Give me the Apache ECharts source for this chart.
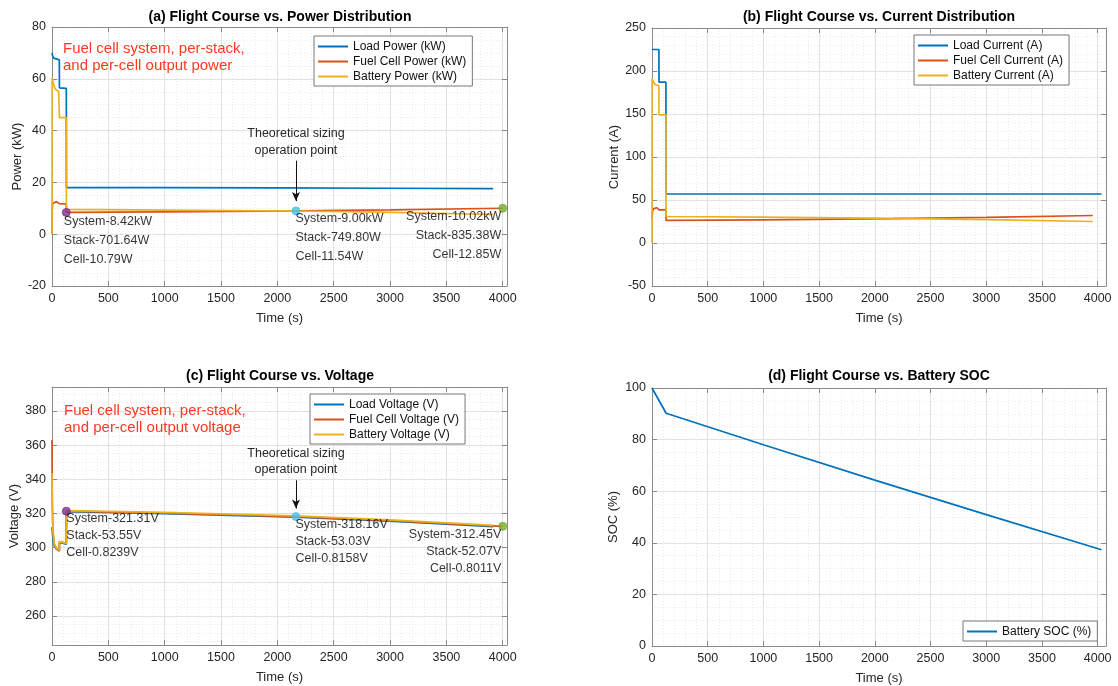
<!DOCTYPE html>
<html>
<head>
<meta charset="utf-8">
<script src="https://cdn.jsdelivr.net/npm/echarts@6/dist/echarts.min.js"></script>
<style>
  html, body { margin: 0; padding: 0; background: #ffffff; }
  #chart { width: 1118px; height: 686px; }
</style>
</head>
<body>
<div id="chart"></div>
<script>
// ---------- (a) power, kW ----------
const loadPowerTime = [0, 5, 15, 30, 65, 66, 127, 128, 1000, 2000, 3000, 3915];
const loadPowerKW   = [70, 69, 68, 67.5, 67.3, 56.5, 56.3, 18.0, 17.95, 17.85, 17.75, 17.6];
const fcPowerTime   = [0, 1, 5, 20, 40, 55, 65, 127, 128, 1000, 2165, 3000, 4000];
const fcPowerKW     = [0, 8.5, 11.8, 12.2, 12.6, 12.4, 11.8, 11.7, 8.42, 8.65, 9.00, 9.40, 10.02];
const batPowerTime  = [0, 1, 10, 30, 60, 65, 66, 127, 128, 1000, 2165, 3000, 3915];
const batPowerKW    = [0, 60.5, 58.5, 56, 55, 55, 45, 45, 9.6, 9.3, 8.95, 8.4, 7.6];

// ---------- (b) current, A ----------
const loadCurTime = [0, 62, 63, 125, 126, 4035];
const loadCurA    = [225, 225, 187, 187, 57, 57];
const fcCurTime   = [0, 5, 15, 30, 45, 55, 62, 125, 126, 1000, 2165, 3000, 3956];
const fcCurA      = [28, 37, 40, 41, 41, 39, 38.5, 38.5, 26.2, 27.0, 28.3, 29.8, 32.0];
const batCurTime  = [0, 1, 10, 30, 62, 63, 125, 126, 1000, 2165, 3000, 3956];
const batCurA     = [0, 191.5, 188, 184, 183, 149, 149, 30.8, 30.0, 28.7, 27.2, 25.0];

// ---------- (c) voltage, V ----------
const loadVoltTime = [0, 8, 20, 40, 65, 66, 127, 128, 1000, 2165, 3000, 3915];
const loadVoltV    = [312, 305, 301, 299, 298, 303, 302, 321.0, 319.9, 317.8, 315.5, 312.2];
const fcVoltTime   = [0, 1, 3, 8, 20, 40, 65, 66, 127, 128, 1000, 2165, 3000, 4000];
const fcVoltV      = [363, 345, 325, 310, 302, 299.5, 298.5, 303.5, 302.5, 321.31, 320.2, 318.16, 315.8, 312.45];
const batVoltTime  = [0, 3, 8, 20, 40, 65, 66, 127, 128, 1000, 2165, 3000, 3915];
const batVoltV     = [343.5, 325, 310, 302, 299.5, 298.5, 303.5, 302.5, 321.7, 320.6, 318.6, 316.2, 313.0];

// ---------- (d) battery state of charge, % ----------
const socTime = [0, 127, 1000, 2000, 3000, 4035];
const socPct  = [100, 90.2, 78.0, 64.3, 50.9, 37.3];

// ---------- highlighted operating points ----------
const opTime      = [127, 2165, 4000];
const opSystemKW  = [8.42, 9.00, 10.02];
const opStackW    = [701.64, 749.80, 835.38];
const opCellW     = [10.79, 11.54, 12.85];
const opSystemV   = [321.31, 318.16, 312.45];
const opStackV    = [53.55, 53.03, 52.07];
const opCellV     = [0.8239, 0.8158, 0.8011];
const opColors    = ['#7E2F8E', '#4DBEEE', '#77AC30'];

const C_BLUE = '#0072BD', C_ORANGE = '#D95319', C_YELLOW = '#EDB120';
const C_RED_TEXT = '#fc3a22';
const FONT = '"Liberation Sans", Arial, Helvetica, sans-serif';
const TICK_COLOR = '#8a8a8a';
const LABEL_COLOR = '#262626';

const zip = (xs, ys) => xs.map((x, i) => [x, ys[i]]);
const plainNumber = v => String(v);

// grid boxes in pixels
const grids = [
  { left: 52,  top: 27,  width: 455, height: 259 },
  { left: 652, top: 28,  width: 454, height: 258 },
  { left: 52,  top: 387, width: 455, height: 258 },
  { left: 652, top: 388, width: 454, height: 258 }
];

function xPair(gi, max) {
  const common = {
    type: 'value', gridIndex: gi, min: 0, max: max, interval: 500,
    axisLine: { show: true, onZero: false, lineStyle: { color: TICK_COLOR, width: 1 } },
    axisTick: { show: true, inside: true, length: 5, lineStyle: { color: TICK_COLOR } },
    minorTick: { show: false, splitNumber: 5 }
  };
  return [
    Object.assign({}, common, {
      position: 'bottom',
      name: 'Time (s)', nameLocation: 'middle', nameGap: 26,
      nameTextStyle: { fontSize: 13, color: LABEL_COLOR, fontFamily: FONT },
      axisLabel: { fontSize: 12.5, color: LABEL_COLOR, margin: 6, showMaxLabel: false,
                   fontFamily: FONT, formatter: plainNumber },
      splitLine: { show: true, lineStyle: { color: '#e2e2e2', width: 1 } },
      minorSplitLine: { show: true, lineStyle: { color: '#ebebeb', width: 1, type: [1, 2] } }
    }),
    Object.assign({}, common, {
      position: 'top',
      axisLabel: { show: false }, splitLine: { show: false }
    })
  ];
}

function yPair(gi, range, hideEnds, name, nameGap, minorSplit) {
  const common = Object.assign({
    type: 'value', gridIndex: gi,
    axisLine: { show: true, onZero: false, lineStyle: { color: TICK_COLOR, width: 1 } },
    axisTick: { show: true, inside: true, length: 5, lineStyle: { color: TICK_COLOR } },
    minorTick: { show: false, splitNumber: minorSplit }
  }, range);
  return [
    Object.assign({}, common, {
      position: 'left',
      name: name, nameLocation: 'middle', nameGap: nameGap,
      nameTextStyle: { fontSize: 13, color: LABEL_COLOR, fontFamily: FONT },
      axisLabel: { fontSize: 12.5, color: LABEL_COLOR, margin: 6, showMinLabel: !hideEnds,
                   showMaxLabel: !hideEnds, fontFamily: FONT, formatter: plainNumber },
      splitLine: { show: true, lineStyle: { color: '#e2e2e2', width: 1 } },
      minorSplitLine: { show: true, lineStyle: { color: '#ebebeb', width: 1, type: [1, 2] } }
    }),
    Object.assign({}, common, {
      position: 'right',
      axisLabel: { show: false }, splitLine: { show: false }
    })
  ];
}

const xAxes = [].concat(
  xPair(0, 4038), xPair(1, 4075), xPair(2, 4038), xPair(3, 4075)
);
const yAxes = [].concat(
  yPair(0, { min: -20, max: 80, interval: 20 }, false, 'Power (kW)', 28, 4),
  yPair(1, { min: -50, max: 250, interval: 50 }, false, 'Current (A)', 30, 5),
  yPair(2, { min: 243, max: 394, splitNumber: 7 }, true, 'Voltage (V)', 31, 4),
  yPair(3, { min: 0, max: 100, interval: 20 }, false, 'SOC (%)', 32, 4)
);

function lineSeries(name, gi, xs, ys, color, extra) {
  return Object.assign({
    name: name, type: 'line', xAxisIndex: 2 * gi, yAxisIndex: 2 * gi,
    data: zip(xs, ys), symbol: 'none', showSymbol: false,
    lineStyle: { color: color, width: 1.7 }, itemStyle: { color: color },
    clip: true, silent: true, z: 3
  }, extra || {});
}

// arrow + caption pointing at the theoretical sizing point
function sizingArrow(yFrom, yTo) {
  return {
    silent: true, animation: false,
    symbol: ['none', 'arrow'], symbolSize: [6, 9],
    lineStyle: { color: '#111', width: 1, type: 'solid' },
    label: {
      show: true, position: 'start', distance: 2,
      formatter: 'Theoretical sizing\noperation point',
      color: LABEL_COLOR, fontSize: 12.5, lineHeight: 16.6, fontFamily: FONT, align: 'center'
    },
    data: [[{ coord: [opTime[1], yFrom] }, { coord: [opTime[1], yTo] }]]
  };
}

// marker points with their three-line value captions
function opPoints(gi, values, captions, lineH, offsets) {
  return {
    type: 'scatter', xAxisIndex: 2 * gi, yAxisIndex: 2 * gi, symbolSize: 8, silent: true, z: 5,
    data: opTime.map((t, i) => ({
      value: [t, values[i]],
      itemStyle: { color: opColors[i], borderColor: opColors[i], borderWidth: 1 },
      label: {
        show: true, formatter: captions[i], position: offsets[i].pos, align: offsets[i].align,
        verticalAlign: 'top', color: '#000', fontSize: 12.5, lineHeight: lineH, fontFamily: FONT
      }
    }))
  };
}

const powerCaptions = opTime.map((t, i) =>
  'System-' + opSystemKW[i].toFixed(2) + 'kW\nStack-' + opStackW[i].toFixed(2) + 'W\nCell-' + opCellW[i].toFixed(2) + 'W');
const voltCaptions = opTime.map((t, i) =>
  'System-' + opSystemV[i].toFixed(2) + 'V\nStack-' + opStackV[i].toFixed(2) + 'V\nCell-' + opCellV[i].toFixed(4) + 'V');

const series = [
  lineSeries('Load Power (kW)', 0, loadPowerTime, loadPowerKW, C_BLUE),
  lineSeries('Fuel Cell Power (kW)', 0, fcPowerTime, fcPowerKW, C_ORANGE, { markLine: sizingArrow(28.4, 12.8) }),
  lineSeries('Battery Power (kW)', 0, batPowerTime, batPowerKW, C_YELLOW),
  opPoints(0, opSystemKW, powerCaptions, 19, [
    { pos: [2, 4], align: 'left' }, { pos: [4, 3], align: 'left' }, { pos: [3, 3.5], align: 'right' }
  ]),

  lineSeries('Load Current (A)', 1, loadCurTime, loadCurA, C_BLUE),
  lineSeries('Fuel Cell Current (A)', 1, fcCurTime, fcCurA, C_ORANGE),
  lineSeries('Battery Current (A)', 1, batCurTime, batCurA, C_YELLOW),

  lineSeries('Load Voltage (V)', 2, loadVoltTime, loadVoltV, C_BLUE),
  lineSeries('Fuel Cell Voltage (V)', 2, fcVoltTime, fcVoltV, C_ORANGE, { markLine: sizingArrow(339.4, 322.9) }),
  lineSeries('Battery Voltage (V)', 2, batVoltTime, batVoltV, C_YELLOW),
  opPoints(2, opSystemV, voltCaptions, 17, [
    { pos: [4.5, 3], align: 'left' }, { pos: [4, 4], align: 'left' }, { pos: [3, 4.5], align: 'right' }
  ]),

  lineSeries('Battery SOC (%)', 3, socTime, socPct, C_BLUE)
];

function legendBox(names, left, top) {
  return {
    data: names.map(n => ({ name: n, icon: 'rect' })),
    left: left, top: top, orient: 'vertical', selectedMode: false,
    itemWidth: 30, itemHeight: 2, itemGap: 2, padding: [4, 6, 3, 4],
    backgroundColor: '#ffffff', borderColor: '#555', borderWidth: 0.8, borderRadius: 0,
    textStyle: { fontSize: 12, color: '#111', fontFamily: FONT, lineHeight: 13 }
  };
}

const legends = [
  legendBox(['Load Power (kW)', 'Fuel Cell Power (kW)', 'Battery Power (kW)'], 314, 36),
  legendBox(['Load Current (A)', 'Fuel Cell Current (A)', 'Battery Current (A)'], 914, 35),
  legendBox(['Load Voltage (V)', 'Fuel Cell Voltage (V)', 'Battery Voltage (V)'], 310, 394),
  legendBox(['Battery SOC (%)'], 963, 621)
];

function titleText(text, x, y) {
  return { type: 'text', x: x, y: y, silent: true, z: 100,
    style: { text: text, fill: '#000', font: 'bold 14px ' + FONT, textAlign: 'center', textVerticalAlign: 'middle' } };
}
function noteText(text, x, y) {
  return { type: 'text', x: x, y: y, silent: true, z: 100,
    style: { text: text, fill: C_RED_TEXT, font: '15px ' + FONT, lineHeight: 17.5, textAlign: 'left', textVerticalAlign: 'top' } };
}

const chart = echarts.init(document.getElementById('chart'), null, { renderer: 'canvas' });
chart.setOption({
  animation: false,
  backgroundColor: '#ffffff',
  textStyle: { fontFamily: FONT },
  grid: grids,
  xAxis: xAxes,
  yAxis: yAxes,
  legend: legends,
  series: series,
  graphic: [
    titleText('(a) Flight Course vs. Power Distribution', 280, 17),
    titleText('(b) Flight Course vs. Current Distribution', 879, 17),
    titleText('(c) Flight Course vs. Voltage', 280, 376),
    titleText('(d) Flight Course vs. Battery SOC', 879, 376),
    noteText('Fuel cell system, per-stack,\nand per-cell output power', 63, 40),
    noteText('Fuel cell system, per-stack,\nand per-cell output voltage', 64, 402)
  ]
});
</script>
</body>
</html>
